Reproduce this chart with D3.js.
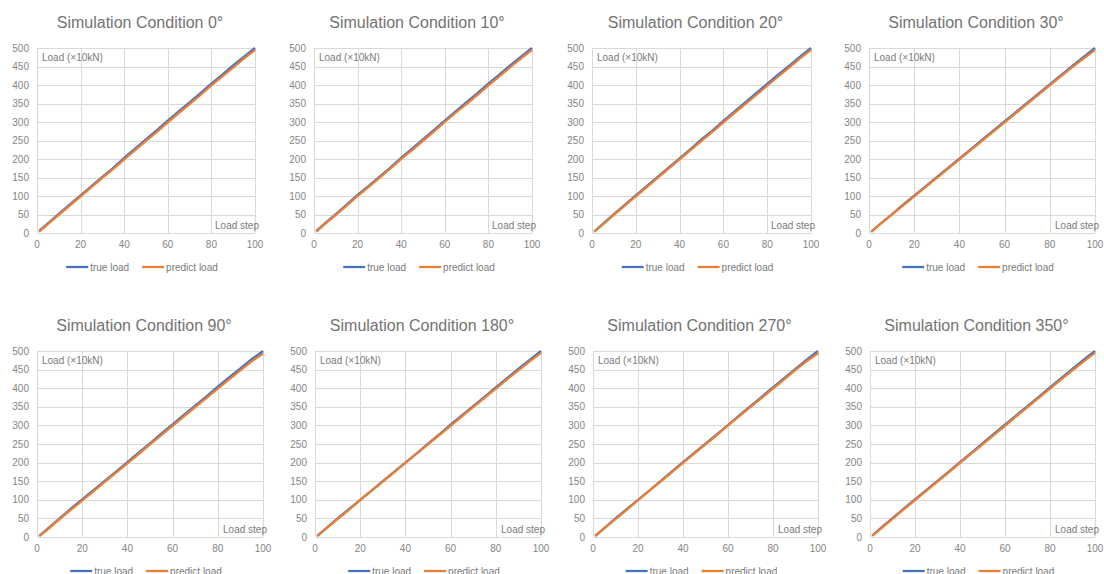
<!DOCTYPE html>
<html lang="en">
<head>
<meta charset="UTF-8">
<title>Simulation Condition</title>
<script src="https://d3js.org/d3.v7.min.js"></script>
<style>
  body { margin: 0; background: #fff; }
  svg text { font-family: "Liberation Sans", Arial, sans-serif; fill: #7a7a7a; }
</style>
</head>
<body>
<script>
// data
var conditions = ["0°", "10°", "20°", "30°", "90°", "180°", "270°", "350°"];
var steps = [1, 5, 10, 15, 20, 25, 30, 35, 40, 45, 50, 55, 60, 65, 70, 75, 80, 85, 90, 95, 100];
var trueLoad = [
  [6, 26, 52, 77, 102, 127, 152, 176, 203, 228, 253, 278, 304, 329, 353, 378, 404, 428, 453, 477, 500],
  [5, 26, 51, 77, 103, 127, 152, 177, 203, 228, 253, 278, 304, 329, 354, 378, 404, 428, 453, 477, 500],
  [4, 25, 51, 76, 102, 127, 152, 177, 202, 227, 253, 277, 303, 328, 353, 378, 403, 428, 452, 477, 500],
  [4, 25, 50, 76, 101, 126, 151, 176, 201, 226, 252, 277, 302, 327, 352, 377, 402, 427, 452, 476, 500],
  [3, 24, 50, 76, 101, 126, 151, 176, 201, 227, 252, 278, 303, 328, 353, 378, 404, 429, 453, 478, 500],
  [3, 24, 50, 75, 100, 125, 150, 175, 200, 225, 251, 276, 302, 327, 352, 377, 402, 427, 452, 476, 500],
  [3, 24, 50, 75, 100, 125, 150, 176, 201, 226, 251, 276, 301, 327, 352, 377, 402, 427, 452, 477, 500],
  [4, 25, 51, 76, 101, 126, 151, 176, 201, 226, 252, 277, 302, 327, 352, 377, 402, 427, 452, 477, 500]
];
var predictLoad = [
  [4, 24, 49, 74, 99, 124, 149, 173, 199, 224, 249, 273, 299, 324, 348, 373, 399, 423, 447, 472, 495],
  [4, 24, 49, 74, 100, 124, 149, 174, 200, 224, 249, 274, 300, 325, 349, 373, 399, 423, 448, 472, 495],
  [3, 23, 49, 74, 99, 124, 149, 174, 199, 224, 249, 273, 299, 324, 348, 373, 398, 423, 447, 472, 495],
  [3, 24, 49, 74, 99, 124, 149, 174, 199, 224, 249, 274, 299, 324, 349, 374, 399, 424, 448, 472, 495],
  [2, 22, 48, 73, 98, 123, 148, 173, 198, 223, 249, 274, 299, 324, 349, 374, 399, 424, 448, 472, 493],
  [2, 23, 48, 73, 99, 124, 149, 174, 199, 224, 249, 274, 299, 324, 349, 374, 399, 424, 448, 472, 495],
  [2, 23, 48, 73, 99, 124, 149, 174, 199, 224, 249, 274, 300, 325, 349, 374, 399, 424, 449, 473, 494],
  [3, 23, 49, 74, 99, 124, 149, 174, 199, 224, 249, 274, 299, 324, 349, 374, 399, 424, 448, 472, 495]
];
var yTicks = [0, 50, 100, 150, 200, 250, 300, 350, 400, 450, 500];
var xTicks = [0, 20, 40, 60, 80, 100];

// layout of each panel (plot area)
var panelLeft   = [37, 314, 592, 869, 37, 315, 593, 870];
var panelRight  = [255, 532, 811, 1095, 263, 541, 818, 1095];
var panelTop    = [48, 48, 48, 48, 351, 351, 351, 351];
var panelBottom = [233, 233, 233, 233, 537, 537, 537, 537];

var W = 1104, H = 574;
var blue = "#4472C4", orange = "#ED7D31", grid = "#d9d9d9";

var svg = d3.select("body").append("svg")
  .attr("width", W).attr("height", H);

conditions.forEach(function(c, i) {
  var x = d3.scaleLinear().domain([0, 100]).range([panelLeft[i], panelRight[i]]);
  var y = d3.scaleLinear().domain([0, 500]).range([panelBottom[i], panelTop[i]]);
  var g = svg.append("g");
  var cx = (panelLeft[i] + panelRight[i]) / 2;

  // gridlines
  g.selectAll("line.h").data(yTicks).enter().append("line")
    .attr("x1", x(0)).attr("x2", x(100))
    .attr("y1", function(d) { return Math.round(y(d)) + 0.5; })
    .attr("y2", function(d) { return Math.round(y(d)) + 0.5; })
    .attr("stroke", grid).attr("stroke-width", 1);
  g.selectAll("line.v").data(xTicks).enter().append("line")
    .attr("y1", y(0)).attr("y2", y(500))
    .attr("x1", function(d) { return Math.round(x(d)) + 0.5; })
    .attr("x2", function(d) { return Math.round(x(d)) + 0.5; })
    .attr("stroke", grid).attr("stroke-width", 1);

  // tick labels
  g.selectAll("text.yt").data(yTicks).enter().append("text")
    .attr("x", x(0) - 8).attr("y", function(d) { return y(d) + 3.5; })
    .attr("text-anchor", "end").attr("font-size", 10).style("fill", "#858585")
    .text(function(d) { return d; });
  g.selectAll("text.xt").data(xTicks).enter().append("text")
    .attr("x", function(d) { return x(d); }).attr("y", y(0) + 15)
    .attr("text-anchor", "middle").attr("font-size", 10).style("fill", "#858585")
    .text(function(d) { return d; });

  // axis titles inside plot
  g.append("text").attr("x", x(0) + 5).attr("y", y(500) + 13)
    .attr("font-size", 10).text("Load (×10kN)");
  g.append("text").attr("x", x(100) + 4).attr("y", y(0) - 4)
    .attr("text-anchor", "end").attr("font-size", 10).text("Load step");

  // chart title
  g.append("text").attr("x", cx - 6).attr("y", y(500) - 20)
    .attr("text-anchor", "middle").attr("font-size", 16).style("fill", "#737373")
    .text("Simulation Condition " + c);

  // lines
  var line = d3.line().x(function(d) { return x(d[0]); }).y(function(d) { return y(d[1]); });
  g.append("path").datum(steps.map(function(s, k) { return [s, trueLoad[i][k]]; }))
    .attr("d", line).attr("fill", "none").attr("stroke", blue).attr("stroke-width", 2.25);
  g.append("path").datum(steps.map(function(s, k) { return [s, predictLoad[i][k]]; }))
    .attr("d", line).attr("fill", "none").attr("stroke", orange).attr("stroke-width", 2.25);

  // legend
  var ly = y(0) + 34;
  var lg = g.append("g");
  var items = [["true load", blue], ["predict load", orange]];
  var xo = 0;
  items.forEach(function(it, k) {
    lg.append("line").attr("x1", xo).attr("x2", xo + 22).attr("y1", ly).attr("y2", ly)
      .attr("stroke", it[1]).attr("stroke-width", 2.25);
    var t = lg.append("text").attr("x", xo + 24).attr("y", ly + 3.5)
      .attr("font-size", 10).text(it[0]);
    xo += 24 + t.node().getComputedTextLength() + (k == 0 ? 13 : 0);
  });
  lg.attr("transform", "translate(" + (cx - 4 - xo / 2) + ",0)");
});
</script>
</body>
</html>
